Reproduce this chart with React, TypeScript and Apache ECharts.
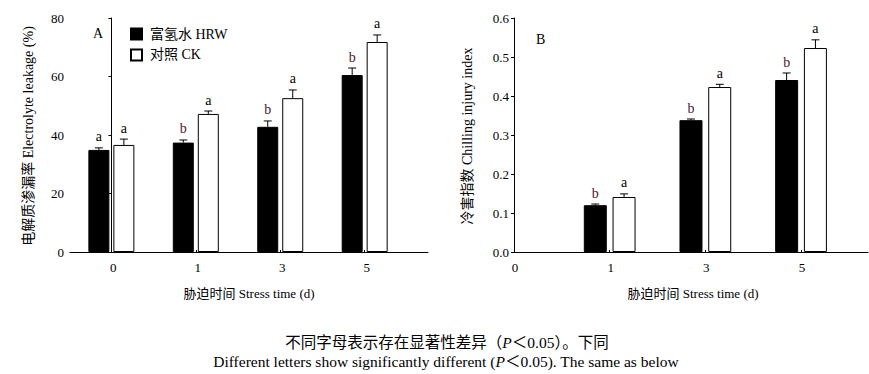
import React, { useEffect, useRef } from "react";
import * as echarts from "echarts";

const categories = ["0", "1", "3", "5"];
const seriesNames = ["富氢水 HRW", "对照 CK"];

// Panel A: electrolyte leakage (%)
const leakHRW = [34.9, 37.4, 42.8, 60.5];
const leakHRWErr = [0.7, 0.9, 2.0, 2.4];
const leakCK = [36.6, 47.2, 52.6, 71.8];
const leakCKErr = [2.0, 1.0, 2.8, 2.4];
const leakHRWLetters = ["a", "b", "b", "b"];
const leakCKLetters = ["a", "a", "a", "a"];

// Panel B: chilling injury index
const ciHRW = [null, 0.12, 0.338, 0.441];
const ciHRWErr = [null, 0.003, 0.003, 0.018];
const ciCK = [null, 0.141, 0.423, 0.523];
const ciCKErr = [null, 0.008, 0.007, 0.021];
const ciHRWLetters = ["", "b", "b", "b"];
const ciCKLetters = ["", "a", "a", "a"];

const leftTicks = [0, 20, 40, 60, 80];
const rightTicks = [0, 0.1, 0.2, 0.3, 0.4, 0.5, 0.6];

const SERIF = "'Liberation Serif', 'Noto Sans CJK SC', serif";
const MIXED = "'Liberation Serif', 'Noto Sans CJK SC', serif";

function barData(vals: (number | null)[]) {
  const out: number[][] = [];
  vals.forEach((v, i) => {
    if (v !== null) out.push([i, v]);
  });
  return out;
}
function errData(vals: (number | null)[], errs: (number | null)[]) {
  const out: number[][] = [];
  vals.forEach((v, i) => {
    if (v !== null && errs[i] !== null) out.push([i, v, errs[i] as number]);
  });
  return out;
}

function makeErr(
  vals: (number | null)[],
  errs: (number | null)[],
  letters: string[],
  offset: number,
  axisIndex: number
) {
  const data = errData(vals, errs);
  return {
    type: "custom",
    xAxisIndex: axisIndex,
    yAxisIndex: axisIndex,
    silent: true,
    z: 5,
    data,
    renderItem: (params: any, api: any) => {
      const x = api.value(0);
      const v = api.value(1);
      const e = api.value(2);
      const base = api.coord([x, v]);
      const top = api.coord([x, v + e]);
      const cx = base[0] + offset;
      const letter = letters[x] || "";
      return {
        type: "group",
        children: [
          {
            type: "line",
            shape: { x1: cx, y1: base[1], x2: cx, y2: top[1] },
            style: { stroke: "#000", lineWidth: 1 },
          },
          {
            type: "line",
            shape: { x1: cx - 4, y1: top[1], x2: cx + 4, y2: top[1] },
            style: { stroke: "#000", lineWidth: 1 },
          },
          {
            type: "text",
            x: cx,
            y: top[1] - 4,
            style: {
              text: letter,
              align: "center",
              verticalAlign: "bottom",
              fontFamily: SERIF,
              fontSize: 14,
              fill: letter === "b" ? "#4a2030" : "#000",
            },
          },
        ],
      };
    },
  };
}

export default function App() {
  const ref = useRef<HTMLDivElement>(null);
  useEffect(() => {
    document.body.style.margin = "0";
    const chart = echarts.init(ref.current!, null, { renderer: "svg" });
    const axisLineStyle = { lineStyle: { color: "#000", width: 1 } };
    const option: any = {
      animation: false,
      backgroundColor: "#fff",
      textStyle: { fontFamily: SERIF, color: "#000" },
      legend: {
        data: seriesNames,
        orient: "vertical",
        left: 130,
        top: 27,
        itemWidth: 11,
        itemHeight: 11,
        itemGap: 7,
        padding: 0,
        icon: "rect",
        textStyle: { fontFamily: MIXED, fontSize: 14, color: "#000", padding: [0, 0, 0, 3] },
      },
      grid: [
        { left: 70, top: 18, width: 358, height: 234 },
        { left: 514, top: 18, width: 354, height: 234 },
      ],
      xAxis: [
        {
          type: "value",
          gridIndex: 0,
          min: -0.49,
          max: 3.75,
          splitLine: { show: false },
          axisLine: axisLineStyle,
          axisTick: { show: true, inside: true, length: 2, customValues: [0, 1, 2, 3], lineStyle: { color: "#000" } },
          axisLabel: {
            customValues: [0, 1, 2, 3],
            formatter: (v: number) => categories[Math.round(v)] ?? "",
            fontSize: 13,
            color: "#000",
            margin: 9,
            padding: [0, 0, 0, 4],
          },
        },
        {
          type: "value",
          gridIndex: 1,
          min: 0,
          max: 3.7,
          splitLine: { show: false },
          axisLine: axisLineStyle,
          axisTick: { show: true, inside: true, length: 2, customValues: [1, 2, 3], lineStyle: { color: "#000" } },
          axisLabel: {
            customValues: [0, 1, 2, 3],
            formatter: (v: number) => categories[Math.round(v)] ?? "",
            fontSize: 13,
            color: "#000",
            margin: 9,
            padding: [0, 0, 0, 2],
          },
        },
      ],
      yAxis: [
        {
          type: "value",
          gridIndex: 0,
          min: leftTicks[0],
          max: leftTicks[leftTicks.length - 1],
          interval: leftTicks[1] - leftTicks[0],
          splitLine: { show: false },
          axisLine: { show: true, ...axisLineStyle },
          axisTick: { show: true, length: 3, lineStyle: { color: "#000" } },
          axisLabel: { fontSize: 13, color: "#000", margin: 6 },
        },
        {
          type: "value",
          gridIndex: 1,
          min: rightTicks[0],
          max: rightTicks[rightTicks.length - 1],
          interval: 0.1,
          splitLine: { show: false },
          axisLine: { show: true, ...axisLineStyle },
          axisTick: { show: true, length: 3, lineStyle: { color: "#000" } },
          axisLabel: { fontSize: 13, color: "#000", margin: 5, formatter: (v: number) => v.toFixed(1) },
        },
      ],
      series: [
        {
          name: seriesNames[0],
          type: "bar",
          xAxisIndex: 0,
          yAxisIndex: 0,
          data: barData(leakHRW),
          barWidth: 21,
          barGap: "19%",
          itemStyle: { color: "#000", borderColor: "#000", borderWidth: 1 },
        },
        {
          name: seriesNames[1],
          type: "bar",
          xAxisIndex: 0,
          yAxisIndex: 0,
          data: barData(leakCK),
          barWidth: 21,
          barGap: "19%",
          itemStyle: { color: "#fff", borderColor: "#000", borderWidth: 1 },
        },
        {
          name: seriesNames[0],
          type: "bar",
          xAxisIndex: 1,
          yAxisIndex: 1,
          data: barData(ciHRW),
          barWidth: 23,
          barGap: "25%",
          itemStyle: { color: "#000", borderColor: "#000", borderWidth: 1 },
        },
        {
          name: seriesNames[1],
          type: "bar",
          xAxisIndex: 1,
          yAxisIndex: 1,
          data: barData(ciCK),
          barWidth: 23,
          barGap: "25%",
          itemStyle: { color: "#fff", borderColor: "#000", borderWidth: 1 },
        },
        makeErr(leakHRW, leakHRWErr, leakHRWLetters, -12.5, 0),
        makeErr(leakCK, leakCKErr, leakCKLetters, 12.5, 0),
        makeErr(ciHRW, ciHRWErr, ciHRWLetters, -14.4, 1),
        makeErr(ciCK, ciCKErr, ciCKLetters, 14.4, 1),
      ],
      graphic: [
        { type: "text", x: 93, y: 33, style: { text: "A", fontFamily: SERIF, fontSize: 14, fill: "#000", verticalAlign: "middle" } },
        { type: "text", x: 536, y: 39, style: { text: "B", fontFamily: SERIF, fontSize: 14, fill: "#000", verticalAlign: "middle" } },
        {
          type: "text",
          x: 28,
          y: 136,
          rotation: Math.PI / 2,
          style: { text: "电解质渗漏率 Electrolyte leakage (%)", fontFamily: MIXED, fontSize: 14, fill: "#000", align: "center", verticalAlign: "middle" },
        },
        {
          type: "text",
          x: 467,
          y: 136,
          rotation: Math.PI / 2,
          style: { text: "冷害指数 Chilling injury index", fontFamily: MIXED, fontSize: 14, fill: "#000", align: "center", verticalAlign: "middle" },
        },
        {
          type: "text",
          x: 249,
          y: 293,
          style: { text: "胁迫时间 Stress time (d)", fontFamily: MIXED, fontSize: 13, fill: "#000", align: "center", verticalAlign: "middle" },
        },
        {
          type: "text",
          x: 693,
          y: 293,
          style: { text: "胁迫时间 Stress time (d)", fontFamily: MIXED, fontSize: 13, fill: "#000", align: "center", verticalAlign: "middle" },
        },
        {
          type: "text",
          x: 447,
          y: 342,
          style: {
            rich: {
              n: { fontFamily: MIXED, fontSize: 15.5, fill: "#000" },
              i: { fontFamily: SERIF, fontSize: 15.5, fontStyle: "italic", fill: "#000" },
            },
            text: "{n|不同字母表示存在显著性差异（}{i|P}{n|＜0.05）。下同}",
            align: "center",
            verticalAlign: "middle",
          },
        },
        {
          type: "text",
          x: 446,
          y: 361,
          style: {
            rich: {
              n: { fontFamily: SERIF, fontSize: 15.5, fill: "#000" },
              i: { fontFamily: SERIF, fontSize: 15.5, fontStyle: "italic", fill: "#000" },
            },
            text: "{n|Different letters show significantly different (}{i|P}{n|＜0.05). The same as below}",
            align: "center",
            verticalAlign: "middle",
          },
        },
      ],
    };
    chart.setOption(option);
    return () => chart.dispose();
  }, []);
  return <div ref={ref} style={{ width: 869, height: 374 }} />;
}
